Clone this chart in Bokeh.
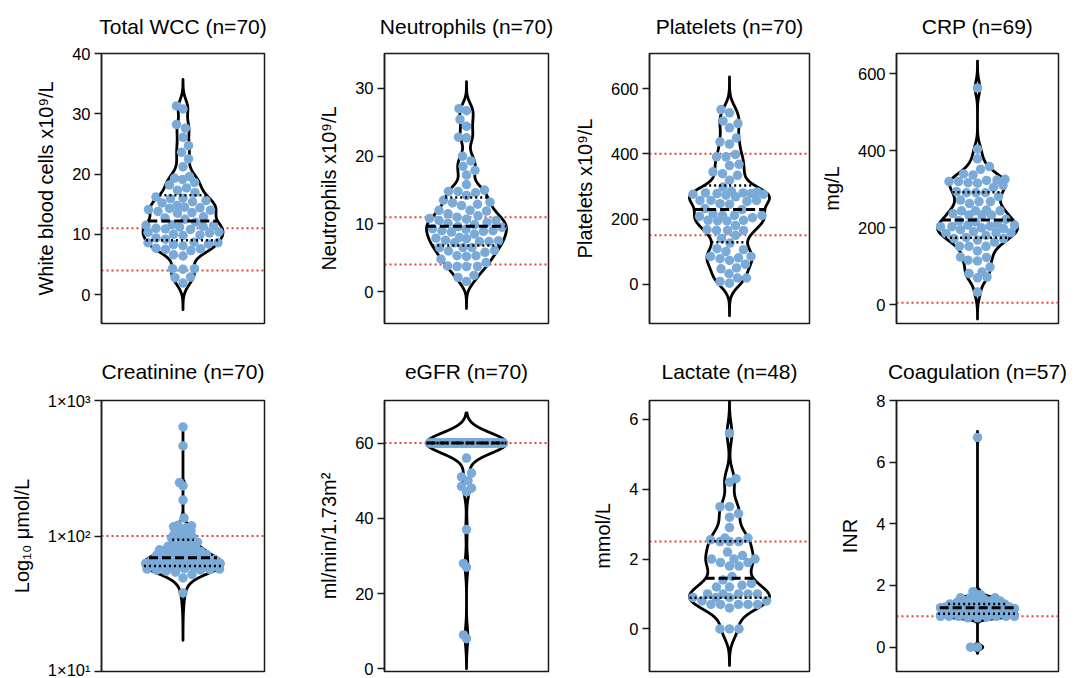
import numpy as np
from bokeh.plotting import figure
from bokeh.layouts import column, row
from bokeh.models import Range1d, FixedTicker, Span
from bokeh.embed import file_html
from bokeh.resources import INLINE

# ---------------- data ----------------
titles = ["Total WCC (n=70)", "Neutrophils (n=70)", "Platelets (n=70)", "CRP (n=69)",
          "Creatinine (n=70)", "eGFR (n=70)", "Lactate (n=48)", "Coagulation (n=57)"]
y_labels = ["White blood cells x10⁹/L", "Neutrophils x10⁹/L", "Platelets x10⁹/L", "mg/L",
            "Log₁₀ μmol/L", "ml/min/1.73m²", "mmol/L", "INR"]

wcc = [31.3, 30.8, 28.2, 27.6, 26.1, 24.7, 23.6, 22.5, 21.2, 19.6, 19.3, 19.1, 18.6, 18.2, 17.7, 17.3, 16.9,
       16.2, 16.0, 15.9, 15.6, 15.4, 15.2, 14.8, 14.5, 14.4, 14.3, 14.1, 14.0, 13.8, 13.6, 13.5, 12.9, 12.7, 12.5,
       12.0, 11.6, 11.5, 11.4, 11.3, 11.2, 11.0, 10.9, 10.8, 10.4, 10.3, 10.2, 10.0, 9.9, 9.8, 9.4, 9.2,
       8.7, 8.6, 8.6, 8.4, 8.3, 8.1, 7.7, 7.6, 7.5, 7.3, 6.6, 6.4, 4.3, 4.3, 4.2, 2.9, 2.8, 1.9]
neutrophils = [27.0, 26.7, 25.4, 24.4, 22.8, 22.7, 20.0, 19.3, 18.5, 17.9, 17.2, 15.8, 15.0, 14.8, 14.8, 14.6, 14.2,
               13.5, 13.2, 13.1, 12.9, 12.7, 12.0, 12.0, 11.9, 11.5, 11.2, 11.0, 10.8, 10.7, 10.5, 10.5, 10.2, 10.1, 9.9,
               9.6, 9.5, 9.3, 9.2, 9.0, 9.0, 8.9, 8.8, 8.5, 8.0, 7.9, 7.8, 7.6, 7.5, 7.4, 7.4, 7.2,
               6.5, 6.5, 6.5, 6.1, 6.0, 5.8, 5.3, 5.3, 5.2, 4.8, 4.3, 3.8, 3.7, 3.7, 3.7, 2.4, 2.1, 1.5]
platelets = [536, 526, 501, 493, 480, 449, 437, 430, 398, 391, 391, 368, 364, 345, 339, 334, 319,
             298, 285, 283, 280, 280, 278, 278, 276, 276, 273, 268, 257, 257, 257, 254, 247, 245, 232,
             229, 216, 211, 211, 211, 208, 204, 196, 196, 194, 194, 180, 167, 165, 165, 165, 150, 140,
             126, 109, 106, 100, 85, 85, 81, 78, 73, 61, 50, 47, 32, 19, 19, 8, 3]
crp = [563, 404, 379, 359, 352, 340, 337, 326, 324, 323, 320, 320, 317, 316, 310, 305, 294,
       291, 291, 291, 281, 272, 268, 268, 263, 246, 244, 244, 244, 237, 233, 233, 233, 222,
       218, 215, 210, 207, 207, 204, 203, 203, 200, 198, 195, 190, 187, 187, 185, 180, 175,
       172, 172, 168, 163, 152, 152, 152, 140, 124, 123, 116, 114, 98, 85, 81, 72, 70, 33]
creatinine = [638, 462, 248, 234, 184, 136, 120, 119, 117, 115, 112, 109, 105, 103, 100, 98, 97, 92,
              90, 88, 86, 85, 84, 82, 80, 79, 78, 77, 77, 76, 75, 74, 73, 72, 71,
              69, 68, 68, 67, 67, 66, 66, 65, 65, 64, 64, 63, 63, 62, 62, 61, 61, 60,
              59.5, 59, 59, 58.5, 58, 58, 57.5, 57, 57, 56.5, 56, 56, 55, 54, 52, 49, 38]
egfr = [60, 60, 60, 60, 60, 60, 60, 60, 60, 60, 60, 60, 60, 60, 60, 60, 60, 60, 60, 60,
        60, 60, 60, 60, 60, 60, 60, 60, 60, 60, 60, 60, 60, 60, 60, 60, 60, 60, 60, 60,
        60, 60, 60, 60, 60, 60, 60, 60, 60, 60, 60, 60, 60, 60, 60, 60, 60, 60,
        56, 52, 51, 50, 48.5, 48, 47, 37, 28, 27, 9, 8]
lactate = [5.6, 4.3, 4.2, 3.5, 3.5, 3.3, 3.2, 2.9, 2.6, 2.6, 2.55, 2.5,
           2.5, 2.5, 2.2, 2.1, 2.0, 2.0, 2.0, 1.9, 1.9, 1.8, 1.8, 1.5,
           1.4, 1.3, 1.25, 1.2, 1.2, 1.0, 1.0, 1.0, 1.0, 1.0, 0.9, 0.9,
           0.9, 0.8, 0.8, 0.7, 0.7, 0.7, 0.7, 0.7, 0.6, 0.0, 0.0, 0.0]
inr = [6.8, 1.8, 1.7, 1.6, 1.6, 1.6, 1.6, 1.55, 1.5, 1.5, 1.5, 1.45, 1.45, 1.42,
       1.4, 1.4, 1.38, 1.35, 1.35, 1.33, 1.3, 1.3, 1.3, 1.3, 1.3, 1.3, 1.29, 1.28,
       1.25, 1.22, 1.2, 1.2, 1.2, 1.18, 1.15, 1.15, 1.12, 1.1, 1.1, 1.1, 1.1, 1.1,
       1.05, 1.05, 1.05, 1.05, 1.0, 1.0, 1.0, 1.0, 1.0, 1.0, 0.98, 0.95, 0.95, 0.0, 0.0]

medians = [12.2, 9.65, 229, 220, 69, 60, 1.45, 1.28]
lower_quartiles = [9.0, 6.8, 129, 174, 60, 60, 0.89, 1.08]
upper_quartiles = [16.5, 13.9, 303, 292, 94, 60, 2.51, 1.40]
reference_lines = [[4, 11], [4, 11], [150, 400], [5], [100], [60], [2.5], [1.0]]
y_ticks = [[0, 10, 20, 30, 40], [0, 10, 20, 30], [0, 200, 400, 600], [0, 200, 400, 600],
           [10, 100, 1000], [0, 20, 40, 60], [0, 2, 4, 6], [0, 2, 4, 6, 8]]
creatinine_tick_labels = {10: "1×10¹", 100: "1×10²", 1000: "1×10³"}

series = [wcc, neutrophils, platelets, crp, creatinine, egfr, lactate, inr]

# ---------------- layout / style ----------------
y_limits = [(-4.8, 40), (-4.7, 35.15), (-120.7, 708), (-48.6, 652.7),
            (10, 1000), (-0.72, 71.3), (-1.22, 6.54), (-0.79, 8.0)]
log_panel = [False, False, False, False, True, False, False, False]
bandwidths = [1.3, 1.1, 26, 19, 7, 2.7, 0.3, 0.067]
tail_extension = [4.4, 4.0, 100, 70, 21, 8, 1.05, 0.2]

col_left = [101, 86, 86, 83]
col_frame = [163, 164, 160, 162]
col_right = [34, 15, 4, 17]
row_top = [53, 67]
row_frame = [270, 271]
row_bottom = [10, 7]
title_standoff = [28, 32]

FONT = "Liberation Sans"
DOT = "#7AAAD8"
RED = "#E8403A"
VIOLIN_HALF_PX = 40.0
DOT_SIZE = 9.5
SWARM_HALF_PX = 37.0


def kde(values, h, grid):
    v = np.asarray(values, dtype=float)[:, None]
    return np.exp(-0.5 * ((grid[None, :] - v) / h) ** 2).sum(axis=0)


def swarm_offsets(ypx, diam, max_half):
    n = len(ypx)
    order = np.argsort(ypx, kind="stable")
    xs = np.zeros(n)
    px_l, py_l = [], []
    side = 1.0
    for i in order:
        y = ypx[i]
        steps = np.arange(0.5, max_half[i] + 1e-9, 0.5)
        c = np.concatenate([[0.0], np.ravel(np.column_stack([steps * side, -steps * side]))])
        x = 0.0
        if px_l:
            P = np.array(px_l)
            Q = np.array(py_l)
            m = np.abs(Q - y) < diam
            if m.any():
                P = P[m]
                Q = Q[m]
                d = np.sqrt((c[:, None] - P[None, :]) ** 2 + (y - Q[None, :]) ** 2).min(axis=1)
                ok = np.where(d >= diam * 0.98)[0]
                x = c[ok[0]] if len(ok) else c[np.argmax(d)]
        xs[i] = x
        px_l.append(x)
        py_l.append(y)
        side = -side
    return xs


figs = []
for k in range(8):
    r, c = divmod(k, 4)
    L, FW, R = col_left[c], col_frame[c], col_right[c]
    T, FH, B = row_top[r], row_frame[r], row_bottom[r]
    lo, hi = y_limits[k]
    is_log = log_panel[k]
    p = figure(width=L + FW + R, height=T + FH + B,
               x_range=Range1d(-1, 1), y_range=Range1d(lo, hi),
               y_axis_type="log" if is_log else "linear",
               x_axis_location=None, output_backend="svg", toolbar_location=None,
               min_border_left=L, min_border_right=R, min_border_top=T, min_border_bottom=B,
               title=titles[k])
    p.title.align = "center"
    p.title.vertical_align = "top"
    p.title.text_font = FONT
    p.title.text_font_size = "21px"
    p.title.text_font_style = "normal"
    p.title.text_color = "black"
    p.title.standoff = title_standoff[r]
    p.xgrid.visible = False
    p.ygrid.visible = False
    p.outline_line_color = "#1a1a1a"
    p.outline_line_width = 1.5
    p.outline_line_alpha = 1.0
    p.background_fill_color = "white"
    p.border_fill_color = "white"

    ax = p.yaxis[0]
    ax.ticker = FixedTicker(ticks=y_ticks[k], minor_ticks=[])
    if is_log:
        ax.major_label_overrides = creatinine_tick_labels
    ax.axis_label = y_labels[k]
    ax.axis_label_text_font = FONT
    ax.axis_label_text_font_size = "20px"
    ax.axis_label_text_font_style = "normal"
    ax.axis_label_text_color = "black"
    ax.axis_label_standoff = 12
    ax.major_label_text_font = FONT
    ax.major_label_text_font_size = "16.5px"
    ax.major_label_text_color = "black"
    ax.major_label_standoff = 4
    ax.axis_line_color = "#1a1a1a"
    ax.axis_line_width = 1.5
    ax.major_tick_line_color = "#1a1a1a"
    ax.major_tick_line_width = 1.5
    ax.major_tick_out = 7
    ax.major_tick_in = 0
    ax.minor_tick_line_color = None

    # reference (normal range) lines
    for ref in reference_lines[k]:
        p.add_layout(Span(location=ref, dimension="width", line_color=RED, line_width=2,
                          line_dash="2 3", level="underlay"))

    vals = np.asarray(series[k], dtype=float)
    h = bandwidths[k]
    ext = tail_extension[k]
    grid = np.linspace(vals.min() - ext, vals.max() + ext, 2000)
    dens = kde(vals, h, grid)
    px_per_x = FW / 2.0
    hw_px = VIOLIN_HALF_PX * dens / dens.max()
    hw = hw_px / px_per_x

    # violin outline
    p.patch(np.concatenate([hw, -hw[::-1]]), np.concatenate([grid, grid[::-1]]),
            fill_color=None, line_color="black", line_width=2.8, line_join="round")

    # swarm of points (layout computed in screen pixels, kept inside the violin)
    if is_log:
        ypx = (np.log10(vals) - np.log10(lo)) / (np.log10(hi) - np.log10(lo)) * FH
    else:
        ypx = (vals - lo) / (hi - lo) * FH
    bound = np.minimum(np.interp(vals, grid, hw_px) + 2.0, SWARM_HALF_PX)
    xoff = swarm_offsets(ypx, DOT_SIZE, bound) / px_per_x
    p.scatter(xoff, vals, size=DOT_SIZE, fill_color=DOT, line_color=None)

    # median and quartiles
    def halfwidth(v):
        return float(np.interp(v, grid, hw))
    med = medians[k]
    w = halfwidth(med)
    p.segment(x0=[-w], y0=[med], x1=[w], y1=[med], line_color="black", line_width=3,
              line_dash="9 4")
    for q in (lower_quartiles[k], upper_quartiles[k]):
        w = halfwidth(q)
        p.segment(x0=[-w], y0=[q], x1=[w], y1=[q], line_color="black", line_width=2.5,
                  line_dash="2 3")
    figs.append(p)

layout = column(row(*figs[:4]), row(*figs[4:]))
open("out.html", "w").write(file_html(layout, INLINE))
